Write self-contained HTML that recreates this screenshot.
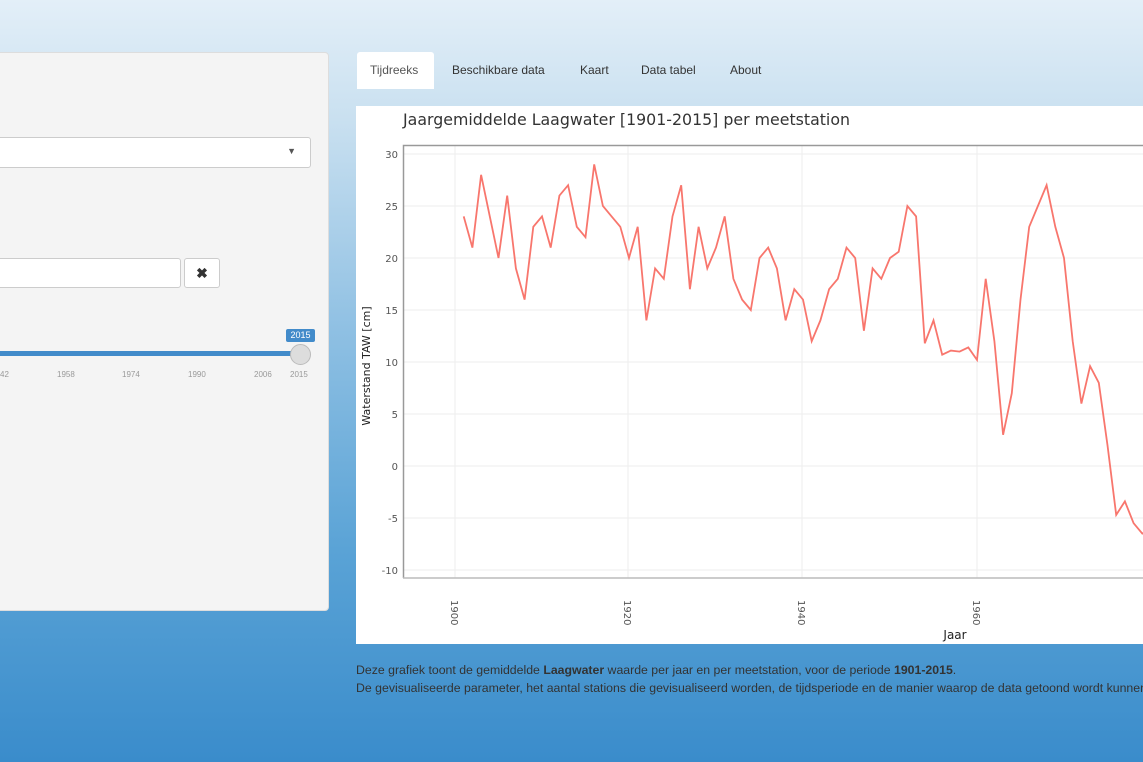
<!DOCTYPE html>
<html><head><meta charset="utf-8"><style>
html,body{margin:0;padding:0;width:1143px;height:762px;overflow:hidden;font-family:"Liberation Sans",sans-serif;}
body{background:linear-gradient(to bottom,#e3eff8 0px,#c9e0f0 120px,#8fc0e3 330px,#5aa3d6 550px,#3a8ccb 762px);position:relative;}
.left{position:absolute;left:-5px;top:52px;width:332px;height:557px;background:#f4f4f4;border:1px solid #ddd;border-radius:4px;}
.sel{position:absolute;left:-5px;top:137px;width:314px;height:29px;background:#fff;border:1px solid #ccc;border-radius:3px;}
.inp{position:absolute;left:-5px;top:258px;width:184px;height:28px;background:#fff;border:1px solid #ccc;border-radius:3px;}
.btn{position:absolute;left:184px;top:258px;width:34px;height:28px;background:#fff;border:1px solid #ccc;border-radius:3px;text-align:center;line-height:28px;font-weight:bold;font-size:14px;color:#333;}
.tab{position:absolute;top:52px;height:36px;line-height:36px;font-size:12px;color:#333;}
.panel{position:absolute;left:356px;top:106px;width:800px;height:538px;background:#fff;}
.txt{position:absolute;left:356px;font-size:12.3px;color:#333;white-space:nowrap;}
</style></head><body>
<div class="left"></div>
<div class="sel"><span style="position:absolute;right:14px;top:8px;font-size:9px;color:#555">▼</span></div>
<div class="inp"></div><div class="btn">✖</div>
<div style="position:absolute;left:0;top:351px;width:300px;height:5px;background:#428bca;"></div>
<div style="position:absolute;left:290px;top:344px;width:19px;height:19px;border-radius:50%;background:#ddd;border:1px solid #bbb;"></div>
<div style="position:absolute;left:286px;top:329px;width:29px;height:13px;background:#428bca;color:#fff;font-size:9px;text-align:center;line-height:13px;border-radius:2px;">2015</div>
<div style="position:absolute;top:370px;left:0;font-size:8px;color:#999;width:330px;height:10px;">
<span style="position:absolute;left:0">42</span><span style="position:absolute;left:57px">1958</span><span style="position:absolute;left:122px">1974</span><span style="position:absolute;left:188px">1990</span><span style="position:absolute;left:254px">2006</span><span style="position:absolute;left:290px">2015</span></div>
<div style="position:absolute;left:357px;top:52px;width:77px;height:37px;background:#fff;border-radius:3px 3px 0 0;"></div>
<div class="tab" style="left:370px;color:#555">Tijdreeks</div>
<div class="tab" style="left:452px">Beschikbare data</div>
<div class="tab" style="left:580px">Kaart</div>
<div class="tab" style="left:641px">Data tabel</div>
<div class="tab" style="left:730px">About</div>
<div class="panel"></div>
<svg style="position:absolute;left:0;top:0" width="1143" height="762">
<text x="403" y="125" font-size="15.8" fill="#333" font-family="DejaVu Sans,sans-serif">Jaargemiddelde Laagwater [1901-2015] per meetstation</text>
<g stroke="#eee" stroke-width="1">
<line x1="403" x2="1143" y1="154" y2="154"/><line x1="403" x2="1143" y1="206" y2="206"/><line x1="403" x2="1143" y1="258" y2="258"/><line x1="403" x2="1143" y1="310" y2="310"/><line x1="403" x2="1143" y1="362" y2="362"/><line x1="403" x2="1143" y1="414" y2="414"/><line x1="403" x2="1143" y1="466" y2="466"/><line x1="403" x2="1143" y1="518" y2="518"/><line x1="403" x2="1143" y1="570" y2="570"/>
<line x1="455" x2="455" y1="145" y2="578"/><line x1="628" x2="628" y1="145" y2="578"/><line x1="802" x2="802" y1="145" y2="578"/><line x1="977" x2="977" y1="145" y2="578"/>
</g>
<path d="M403.5 578V145.5H1143" fill="none" stroke="#999" stroke-width="1.5"/>
<line x1="403" x2="1143" y1="578" y2="578" stroke="#bbb" stroke-width="1.5"/>
<g font-size="10" fill="#555" text-anchor="end" font-family="DejaVu Sans,sans-serif">
<text x="398" y="158">30</text><text x="398" y="210">25</text><text x="398" y="262">20</text><text x="398" y="314">15</text><text x="398" y="366">10</text><text x="398" y="418">5</text><text x="398" y="470">0</text><text x="398" y="522">-5</text><text x="398" y="574">-10</text>
</g>
<g font-size="10" fill="#555" font-family="DejaVu Sans,sans-serif">
<text transform="translate(451,600) rotate(90)">1900</text><text transform="translate(624,600) rotate(90)">1920</text><text transform="translate(798,600) rotate(90)">1940</text><text transform="translate(973,600) rotate(90)">1960</text>
</g>
<text x="955" y="639" font-size="12" fill="#222" text-anchor="middle" font-family="DejaVu Sans,sans-serif">Jaar</text>
<text transform="translate(370,366) rotate(-90)" font-size="11" fill="#222" text-anchor="middle" font-family="DejaVu Sans,sans-serif">Waterstand TAW [cm]</text>
<g transform="translate(455,466) scale(8.7,-10.4)">
<polyline fill="none" stroke="#f8766d" stroke-width="1.8" vector-effect="non-scaling-stroke" points="1,24 2,21 3,28 4,24 5,20 6,26 7,19 8,16 9,23 10,24 11,21 12,26 13,27 14,23 15,22 16,29 17,25 18,24 19,23 20,20 21,23 22,14 23,19 24,18 25,24 26,27 27,17 28,23 29,19 30,21 31,24 32,18 33,16 34,15 35,20 36,21 37,19 38,14 39,17 40,16 41,12 42,14 43,17 44,18 45,21 46,20 47,13 48,19 49,18 50,20 51,20.6 52,25 53,24 54,11.8 55,14 56,10.7 57,11.1 58,11 59,11.4 60,10.2 61,18 62,12 63,3 64,7 65,16 66,23 67,25 68,27 69,23 70,20 71,12 72,6 73,9.6 74,8 75,2 76,-4.7 77,-3.4 78,-5.5 79,-6.5 80,-6 81,-7"/>
</g>
</svg>
<div class="txt" style="top:663px">Deze grafiek toont de gemiddelde <b>Laagwater</b> waarde per jaar en per meetstation, voor de periode <b>1901-2015</b>.</div>
<div class="txt" style="top:681px">De gevisualiseerde parameter, het aantal stations die gevisualiseerd worden, de tijdsperiode en de manier waarop de data getoond wordt kunnen</div>
</body></html>
